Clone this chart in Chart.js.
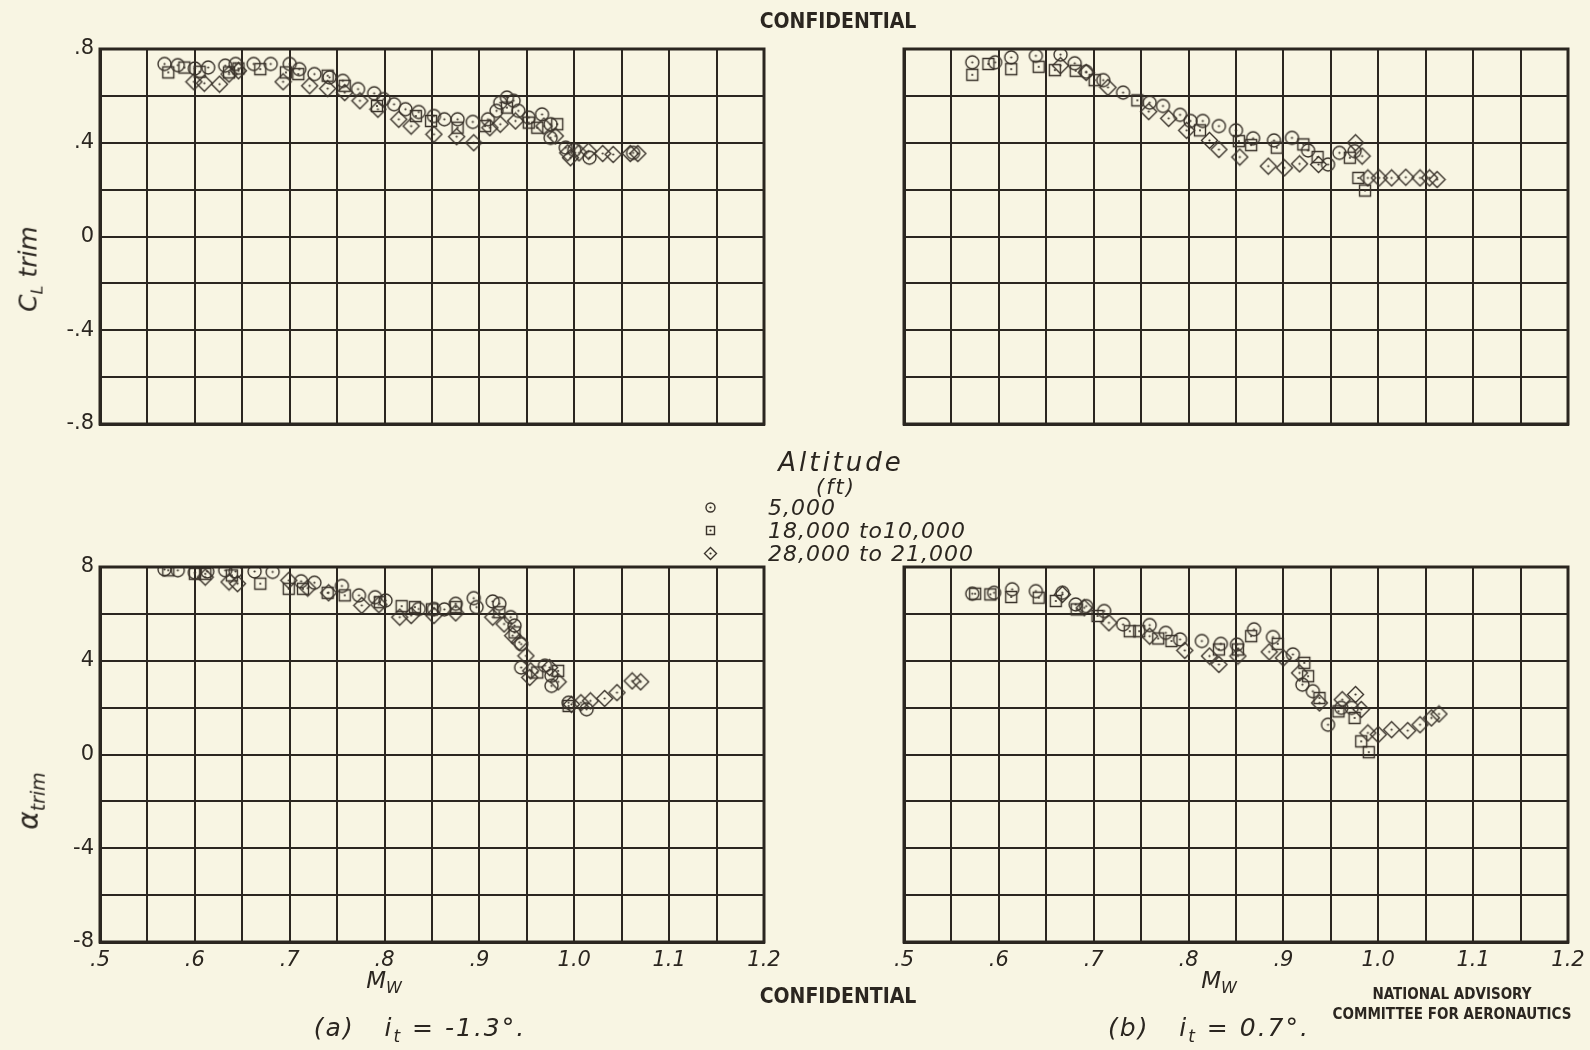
<!DOCTYPE html>
<html>
<head>
<meta charset="utf-8">
<script src="https://cdn.jsdelivr.net/npm/chart.js@4.4.0/dist/chart.umd.min.js"></script>
<style>
  body { margin: 0; width: 1590px; height: 1050px; background: #f8f5e3; position: relative; overflow: hidden;
         font-family: "DejaVu Sans", sans-serif; color: #2b2620; }
  canvas { position: absolute; }
  .txt { position: absolute; white-space: nowrap; transform: translate(-50%, -50%); }
  .hand { font-style: italic; }
  .stamp { font-family: "Liberation Sans Narrow", "DejaVu Sans Condensed", sans-serif; font-weight: bold; }
</style>
</head>
<body>
<script>
// ---- data: [Mach, value] ----
// (a) i_t = -1.3 deg, lift coefficient for trim
const clA_5000 = [[0.568,0.736],[0.582,0.731],[0.600,0.717],[0.614,0.721],[0.632,0.729],[0.643,0.736],[0.662,0.736],[0.680,0.736],
  [0.700,0.736],[0.710,0.714],[0.726,0.693],[0.742,0.679],[0.756,0.664],[0.772,0.629],[0.789,0.611],[0.799,0.586],[0.810,0.564],
  [0.822,0.543],[0.836,0.531],[0.852,0.514],[0.863,0.500],[0.877,0.500],[0.893,0.489],[0.909,0.500],[0.918,0.536],[0.922,0.571],
  [0.929,0.593],[0.936,0.579],[0.941,0.536],[0.952,0.507],[0.966,0.521],[0.975,0.479],[0.975,0.421],[0.991,0.379],[1.000,0.369],
  [1.016,0.336],[1.062,0.357]];
const clA_18000 = [[0.572,0.700],[0.589,0.721],[0.605,0.703],[0.636,0.700],[0.646,0.717],[0.669,0.714],[0.696,0.700],[0.709,0.693],
  [0.740,0.686],[0.758,0.643],[0.792,0.557],[0.833,0.514],[0.849,0.493],[0.877,0.464],[0.906,0.471],[0.929,0.550],[0.952,0.486],
  [0.961,0.464],[0.982,0.479]];
const clA_28000 = [[0.599,0.660],[0.610,0.654],[0.626,0.650],[0.636,0.693],[0.646,0.707],[0.693,0.660],[0.721,0.643],[0.740,0.631],
  [0.758,0.614],[0.774,0.579],[0.793,0.543],[0.815,0.500],[0.828,0.471],[0.852,0.436],[0.876,0.426],[0.894,0.400],[0.911,0.464],
  [0.922,0.479],[0.938,0.493],[0.968,0.471],[0.980,0.429],[0.993,0.357],[0.996,0.336],[1.005,0.357],[1.015,0.364],[1.030,0.354],
  [1.041,0.350],[1.059,0.354],[1.067,0.354]];

// (b) i_t = 0.7 deg, lift coefficient for trim
const clB_5000 = [[0.572,0.743],[0.596,0.743],[0.613,0.764],[0.639,0.771],[0.665,0.776],[0.680,0.739],[0.692,0.703],[0.710,0.667],
  [0.731,0.614],[0.759,0.571],[0.773,0.557],[0.791,0.519],[0.802,0.493],[0.815,0.493],[0.832,0.471],[0.850,0.453],[0.868,0.419],
  [0.890,0.410],[0.909,0.421],[0.926,0.367],[0.947,0.307],[0.959,0.357],[0.975,0.364]];
const clB_18000 = [[0.572,0.690],[0.589,0.736],[0.613,0.714],[0.642,0.724],[0.659,0.710],[0.681,0.707],[0.701,0.667],[0.746,0.581],
  [0.812,0.453],[0.853,0.407],[0.866,0.390],[0.893,0.379],[0.921,0.393],[0.936,0.339],[0.970,0.336],[0.979,0.250],[0.986,0.196]];
const clB_28000 = [[0.665,0.729],[0.692,0.700],[0.715,0.636],[0.758,0.533],[0.779,0.504],[0.798,0.453],[0.822,0.410],[0.832,0.371],
  [0.854,0.339],[0.884,0.300],[0.901,0.293],[0.917,0.310],[0.937,0.307],[0.976,0.400],[0.983,0.343],[0.989,0.250],[1.001,0.250],
  [1.014,0.250],[1.029,0.253],[1.044,0.250],[1.054,0.250],[1.062,0.243]];

// (a) i_t = -1.3 deg, angle of attack for trim (deg)
const alA_5000 = [[0.568,7.90],[0.582,7.86],[0.600,7.76],[0.613,7.81],[0.632,7.86],[0.643,7.81],[0.663,7.81],[0.682,7.79],
  [0.712,7.39],[0.726,7.33],[0.755,7.19],[0.773,6.79],[0.790,6.71],[0.801,6.57],[0.836,6.21],[0.852,6.21],[0.863,6.19],
  [0.875,6.43],[0.894,6.67],[0.897,6.29],[0.914,6.53],[0.921,6.43],[0.933,5.86],[0.937,5.50],[0.944,4.71],[0.944,3.71],
  [0.969,3.79],[0.976,3.36],[0.976,2.93],[0.994,2.21],[1.013,1.93]];
const alA_18000 = [[0.572,7.86],[0.600,7.71],[0.611,7.71],[0.639,7.64],[0.669,7.29],[0.699,7.07],[0.714,7.07],[0.740,6.90],
  [0.758,6.79],[0.795,6.50],[0.818,6.33],[0.832,6.29],[0.850,6.19],[0.875,6.29],[0.921,6.07],[0.937,5.21],[0.961,3.50],
  [0.983,3.57],[0.994,2.07]];
const alA_28000 = [[0.611,7.57],[0.636,7.36],[0.645,7.29],[0.699,7.43],[0.719,7.10],[0.741,6.90],[0.776,6.36],[0.794,6.39],
  [0.816,5.86],[0.828,5.93],[0.852,5.93],[0.875,6.04],[0.914,5.86],[0.926,5.57],[0.935,5.07],[0.942,4.79],[0.949,4.21],
  [0.954,3.57],[0.953,3.29],[0.974,3.71],[0.983,3.10],[0.997,2.14],[1.007,2.21],[1.017,2.29],[1.032,2.39],[1.045,2.64],
  [1.061,3.14],[1.070,3.10]];

// (b) i_t = 0.7 deg, angle of attack for trim (deg)
const alB_5000 = [[0.572,6.86],[0.595,6.90],[0.614,7.05],[0.639,6.97],[0.667,6.90],[0.681,6.40],[0.692,6.33],[0.711,6.12],
  [0.731,5.55],[0.759,5.52],[0.776,5.19],[0.791,4.91],[0.814,4.84],[0.834,4.72],[0.851,4.69],[0.869,5.34],[0.889,5.01],
  [0.910,4.27],[0.920,2.98],[0.931,2.70],[0.947,1.27],[0.961,1.99],[0.972,1.99]];
const alB_18000 = [[0.575,6.86],[0.591,6.83],[0.613,6.72],[0.642,6.69],[0.660,6.55],[0.682,6.19],[0.704,5.91],[0.738,5.26],
  [0.748,5.26],[0.768,4.95],[0.782,4.84],[0.832,4.48],[0.852,4.48],[0.866,5.05],[0.894,4.72],[0.922,3.91],[0.926,3.34],
  [0.938,2.41],[0.958,1.84],[0.975,1.56],[0.982,0.56],[0.990,0.10]];
const alB_28000 = [[0.667,6.83],[0.690,6.26],[0.716,5.62],[0.759,5.05],[0.796,4.44],[0.822,4.20],[0.832,3.84],[0.852,4.20],
  [0.885,4.38],[0.900,4.12],[0.917,3.48],[0.938,2.20],[0.962,2.34],[0.976,2.56],[0.982,1.92],[0.989,0.92],[1.000,0.85],
  [1.014,1.06],[1.031,1.02],[1.044,1.27],[1.056,1.56],[1.064,1.73]];

const altitudes = ['5,000', '18,000 to10,000', '28,000 to 21,000'];
const machRange = [0.5, 1.2];
const clRange = [-0.8, 0.8];
const alphaRange = [-8, 8];

// ---- drawing ----
const INK = '#2b2620';
const PAD_TOP = 20, PAD_RIGHT = 26, AXIS_W = 62, AXIS_H = 48;

function marker(kind, s) {
  const c = document.createElement('canvas');
  c.width = c.height = s;
  const g = c.getContext('2d');
  const m = s / 2;
  g.strokeStyle = '#3a332b';
  g.fillStyle = '#3a332b';
  g.lineWidth = 1.4;
  g.beginPath();
  if (kind === 'circle') g.arc(m, m, m - 3, 0, 2 * Math.PI);
  else if (kind === 'square') g.rect(3.5, 3.5, s - 7, s - 7);
  else { g.moveTo(m, 1.5); g.lineTo(s - 1.5, m); g.lineTo(m, s - 1.5); g.lineTo(1.5, m); g.closePath(); }
  g.stroke();
  g.beginPath();
  g.arc(m, m, 1.1, 0, 2 * Math.PI);
  g.fill();
  return c;
}
const markers = [marker('circle', 19), marker('square', 18), marker('diamond', 19)];

function machLabel(v) {
  const k = Math.round(v * 100);
  if (k % 10) return '';
  const s = (k / 100).toFixed(1);
  return s.startsWith('0') ? s.slice(1) : s;
}
function clLabel(v) {
  const k = Math.round(v * 10);
  if (k % 4) return '';
  if (k === 0) return '0';
  return (k < 0 ? '-' : '') + '.' + Math.abs(k);
}
function alphaLabel(v) {
  const k = Math.round(v);
  return k % 4 ? '' : String(k);
}

const framePlugin = {
  id: 'frame',
  afterDraw(chart) {
    const a = chart.chartArea, g = chart.ctx;
    g.save();
    g.strokeStyle = INK;
    g.lineWidth = 3;
    g.strokeRect(a.left, a.top, a.right - a.left, a.bottom - a.top);
    g.restore();
  }
};

function panel(left, top, w, h, series, yRange, yStep, yLabel, showX, showY) {
  const cv = document.createElement('canvas');
  cv.width = w + AXIS_W + PAD_RIGHT;
  cv.height = h + PAD_TOP + AXIS_H;
  cv.style.left = (left - AXIS_W) + 'px';
  cv.style.top = (top - PAD_TOP) + 'px';
  document.body.appendChild(cv);

  new Chart(cv, {
    type: 'scatter',
    data: {
      datasets: series.map((pts, i) => ({
        label: altitudes[i],
        data: pts.map(p => ({ x: p[0], y: p[1] })),
        pointStyle: markers[i],
        pointRadius: 7,
        showLine: false
      }))
    },
    options: {
      responsive: false,
      animation: false,
      events: [],
      layout: { padding: { top: PAD_TOP, right: PAD_RIGHT, left: 0, bottom: 0 } },
      plugins: { legend: { display: false }, tooltip: { enabled: false } },
      scales: {
        x: {
          type: 'linear', min: machRange[0], max: machRange[1],
          afterFit: s => { s.height = AXIS_H; },
          grid: { color: INK, lineWidth: 2, drawTicks: false },
          border: { color: INK, width: 3 },
          ticks: {
            display: showX, stepSize: 0.05, autoSkip: false, maxRotation: 0, padding: 6, color: INK,
            font: { family: 'DejaVu Sans', size: 21, style: 'italic' },
            callback: machLabel
          }
        },
        y: {
          type: 'linear', min: yRange[0], max: yRange[1],
          afterFit: s => { s.width = AXIS_W; },
          grid: { color: INK, lineWidth: 2, drawTicks: false },
          border: { color: INK, width: 3 },
          ticks: {
            display: showY, stepSize: yStep, autoSkip: false, padding: 6, color: INK,
            font: { family: 'DejaVu Sans', size: 21 },
            callback: yLabel
          }
        }
      }
    },
    plugins: [framePlugin]
  });
}

panel(100, 49, 664, 375, [clA_5000, clA_18000, clA_28000], clRange, 0.2, clLabel, false, true);
panel(904, 49, 664, 375, [clB_5000, clB_18000, clB_28000], clRange, 0.2, clLabel, false, false);
panel(100, 567, 664, 375, [alA_5000, alA_18000, alA_28000], alphaRange, 2, alphaLabel, true, true);
panel(904, 567, 664, 375, [alB_5000, alB_18000, alB_28000], alphaRange, 2, alphaLabel, true, false);

// ---- text ----
function text(html, x, y, css, cls) {
  const d = document.createElement('div');
  d.className = 'txt ' + (cls || '');
  d.innerHTML = html;
  d.style.left = x + 'px';
  d.style.top = y + 'px';
  Object.assign(d.style, css || {});
  document.body.appendChild(d);
  return d;
}

text('CONFIDENTIAL', 838, 21, { fontSize: '21px' }, 'stamp');
text('CONFIDENTIAL', 838, 996, { fontSize: '21px' }, 'stamp');
text('NATIONAL ADVISORY', 1452, 994, { fontSize: '15px' }, 'stamp');
text('COMMITTEE FOR AERONAUTICS', 1452, 1014, { fontSize: '15px' }, 'stamp');

text('C<sub style="font-size:16px">L</sub> trim', 30, 269, { fontSize: '25px', transform: 'translate(-50%,-50%) rotate(-90deg)' }, 'hand');
text('\u03b1<sub style="font-size:19px">trim</sub>', 30, 801, { fontSize: '28px', transform: 'translate(-50%,-50%) rotate(-90deg)' }, 'hand');
text('M<sub style="font-size:16px">W</sub>', 384, 982, { fontSize: '23px' }, 'hand');
text('M<sub style="font-size:16px">W</sub>', 1219, 982, { fontSize: '23px' }, 'hand');
text('(a)&nbsp;&nbsp; i<sub style="font-size:17px">t</sub> = -1.3\u00b0.', 420, 1029, { fontSize: '25px', letterSpacing: '2px' }, 'hand');
text('(b)&nbsp;&nbsp; i<sub style="font-size:17px">t</sub> = 0.7\u00b0.', 1209, 1029, { fontSize: '25px', letterSpacing: '2px' }, 'hand');

// legend
text('Altitude', 841, 462, { fontSize: '26px', letterSpacing: '3px' }, 'hand');
text('(ft)', 836, 487, { fontSize: '21px', letterSpacing: '2px' }, 'hand');
const legendY = [507, 530, 553];
altitudes.forEach((name, i) => {
  const img = document.createElement('img');
  img.src = marker(['circle', 'square', 'diamond'][i], 15).toDataURL();
  img.style.cssText = 'position:absolute;width:15px;height:15px;left:' + (710 - 7) + 'px;top:' + (legendY[i] - 7) + 'px';
  document.body.appendChild(img);
  text(name, 768, legendY[i], { fontSize: '22px', letterSpacing: '1px', transform: 'translate(0,-50%)' }, 'hand');
});
</script>
</body>
</html>
